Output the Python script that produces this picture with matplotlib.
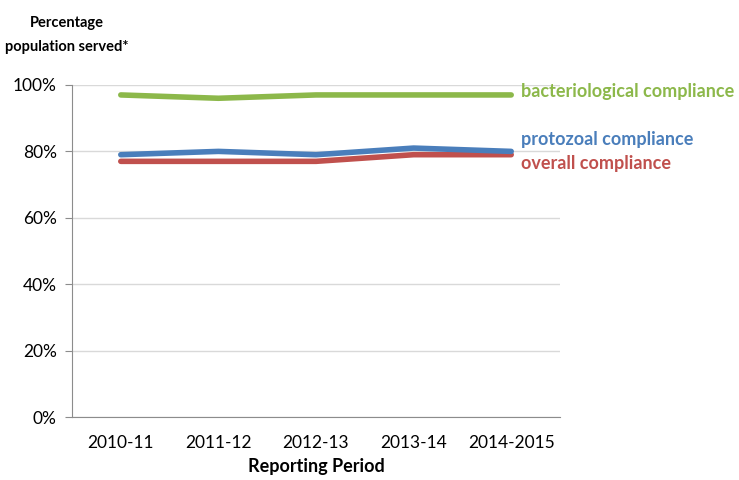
import numpy as np
import matplotlib
matplotlib.use("Agg")
import matplotlib.pyplot as plt

plt.rcParams['font.family'] = ['Lato', 'DejaVu Sans']

periods = ['2010-11', '2011-12', '2012-13', '2013-14', '2014-2015']
bacterio = [97, 96, 97, 97, 97]
protozoal = [79, 80, 79, 81, 80]
overall = [77, 77, 77, 79, 79]

green = '#8cb84a'
blue = '#4a7ebb'
red = '#c0504d'

fig = plt.figure(figsize=(7.39, 4.8), dpi=100)
ax = fig.add_axes([0.0974, 0.13125, 0.6604, 0.6917])

x = np.arange(len(periods))
ax.plot(x, bacterio, color=green, lw=4, solid_capstyle='round', zorder=3)
ax.plot(x, protozoal, color=blue, lw=4, solid_capstyle='round', zorder=4)
ax.plot(x, overall, color=red, lw=4, solid_capstyle='round', zorder=3)

ax.set_xlim(-0.5, 4.5)
ax.set_ylim(0, 100)
ax.set_yticks(range(0, 101, 20))
ax.set_yticklabels([f'{v}%' for v in range(0, 101, 20)])
ax.set_xticks(x)
ax.set_xticklabels(periods)
ax.yaxis.grid(True, color='#d9d9d9', lw=1)
ax.set_axisbelow(True)
for s in ['top', 'right']:
    ax.spines[s].set_visible(False)
for s in ['left', 'bottom']:
    ax.spines[s].set_color('#8c8c8c')
ax.tick_params(axis='y', length=5, color='#8c8c8c', labelsize=12.5, pad=6)
ax.tick_params(axis='x', length=0, labelsize=12.5, pad=13)

ax.set_xlabel('Reporting Period', fontsize=13, fontweight='bold', labelpad=5)
fig.text(0.09, 0.927, 'Percentage\npopulation served*', ha='center', va='center',
         fontsize=10.5, fontweight='bold', linespacing=1.9)

ax.text(4.1, 97.9, 'bacteriological compliance', color=green,
        fontsize=13, fontweight='bold', va='center', ha='left')
ax.text(4.1, 83.7, 'protozoal compliance', color=blue,
        fontsize=13, fontweight='bold', va='center', ha='left')
ax.text(4.1, 76.5, 'overall compliance', color=red,
        fontsize=13, fontweight='bold', va='center', ha='left')

fig.savefig('out.png', dpi=100)
